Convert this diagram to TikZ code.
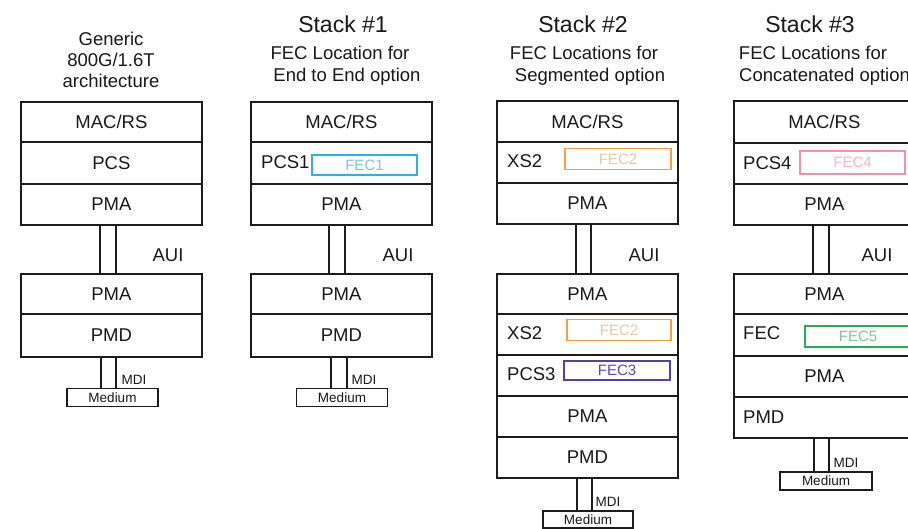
\documentclass[tikz,border=0pt]{standalone}
\usepackage{fontspec}
\setmainfont{Liberation Sans}
\newcommand\fLbl{\fontsize{18.5}{21}\selectfont}
\newcommand\fTtl{\fontsize{23}{26}\selectfont}
\newcommand\fSml{\fontsize{13.5}{15}\selectfont}
\newcommand\fFec{\fontsize{15}{17}\selectfont}
\definecolor{linec}{RGB}{28,28,28}
\definecolor{txtc}{RGB}{25,25,25}
\definecolor{fecAc}{RGB}{45,175,225}
\definecolor{fecAt}{RGB}{125,195,232}
\definecolor{fecBc}{RGB}{245,160,70}
\definecolor{fecBt}{RGB}{228,200,172}
\definecolor{fecCc}{RGB}{85,65,165}
\definecolor{fecCt}{RGB}{95,75,175}
\definecolor{fecDc}{RGB}{240,145,175}
\definecolor{fecDt}{RGB}{246,180,205}
\definecolor{fecEc}{RGB}{40,170,90}
\definecolor{fecEt}{RGB}{125,200,145}
\begin{document}
\begin{tikzpicture}[x=1pt,y=-1pt,
  layer/.style={draw=linec, line width=1.8pt, minimum width=181pt, inner sep=0pt,
    anchor=north west, font=\fLbl, text=txtc},
  lbl/.style={inner sep=0pt, font=\fLbl, text=txtc},
  ttl/.style={inner sep=0pt, font=\fTtl, text=txtc},
  sub/.style={inner sep=0pt, font=\fLbl, text=txtc},
  sml/.style={inner sep=0pt, font=\fSml, text=txtc},
  medbox/.style={draw=linec, line width=1.6pt, minimum width=91pt, minimum height=18pt,
    inner sep=0pt, font=\fSml, text=txtc},
  fecbox/.style={line width=1.9pt, minimum width=105pt, minimum height=21pt,
    inner sep=0pt, font=\fFec},
  pillar/.style={draw=linec, line width=2pt}
]
\useasboundingbox (0,0) rectangle (908,529);
\clip (0,0) rectangle (908,529);
\fill[white] (0,0) rectangle (908,529);

% ---------------- Column 1: Generic ----------------
\node[sub] (t1a) at (111,39) {Generic};
\node[sub] (t1b) at (111,60) {800G/1.6T};
\node[sub] (t1c) at (111,81) {architecture};
\node[layer, minimum height=40pt] (u1a) at (20,101) {MAC/RS};
\node[layer, minimum height=42pt] (u1b) at (20,141) {PCS};
\node[layer, minimum height=41pt] (u1c) at (20,183) {PMA};
\node[layer, minimum height=40pt] (l1a) at (20,273) {PMA};
\node[layer, minimum height=43pt] (l1b) at (20,313) {PMD};
\draw[pillar] ([xshift=-11.5pt]u1c.south) -- ([xshift=-11.5pt]l1a.north);
\draw[pillar] ([xshift=4.5pt]u1c.south) -- ([xshift=4.5pt]l1a.north);
\node[lbl] (aui1) at (168,255) {AUI};
\node[medbox] (med1) at (112.5,397.5) {Medium};
\draw[pillar] ([xshift=-10.5pt]l1b.south) -- ([xshift=-10.5pt]l1b.south |- med1.north);
\draw[pillar] ([xshift=4.5pt]l1b.south) -- ([xshift=4.5pt]l1b.south |- med1.north);
\node[sml] (mdi1) at (134,380) {MDI};

% ---------------- Column 2: Stack #1 ----------------
\node[ttl] (t2a) at (343,24) {Stack \#1};
\node[sub] (t2b) at (340,53) {FEC Location for};
\node[sub] (t2c) at (347,77) {End to End option};
\node[layer, minimum height=40pt] (u2a) at (250,101) {MAC/RS};
\node[layer, minimum height=42pt] (u2b) at (250,141) {};
\node[layer, minimum height=41pt] (u2c) at (250,183) {PMA};
\node[layer, minimum height=40pt] (l2a) at (250,273) {PMA};
\node[layer, minimum height=43pt] (l2b) at (250,313) {PMD};
\node[lbl, anchor=west] (p2) at (261,162) {PCS1};
\node[fecbox, draw=fecAc, text=fecAt, minimum height=20pt] (fec1) at (364.5,165) {FEC1};
\draw[pillar] ([xshift=-12.5pt]u2c.south) -- ([xshift=-12.5pt]l2a.north);
\draw[pillar] ([xshift=3.5pt]u2c.south) -- ([xshift=3.5pt]l2a.north);
\node[lbl] (aui2) at (398,255) {AUI};
\node[medbox] (med2) at (342,397.5) {Medium};
\draw[pillar] ([xshift=-10.5pt]l2b.south) -- ([xshift=-10.5pt]l2b.south |- med2.north);
\draw[pillar] ([xshift=5.5pt]l2b.south) -- ([xshift=5.5pt]l2b.south |- med2.north);
\node[sml] (mdi2) at (364,380) {MDI};

% ---------------- Column 3: Stack #2 ----------------
\node[ttl] (t3a) at (583,24) {Stack \#2};
\node[sub] (t3b) at (584,53) {FEC Locations for};
\node[sub] (t3c) at (590,77) {Segmented option};
\node[layer, minimum height=41pt] (u3a) at (496,100) {MAC/RS};
\node[layer, minimum height=41pt] (u3b) at (496,141) {};
\node[layer, minimum height=41pt] (u3c) at (496,182) {PMA};
\node[layer, minimum height=40pt] (l3a) at (496,273) {PMA};
\node[layer, minimum height=41pt] (l3b) at (496,313) {};
\node[layer, minimum height=41pt] (l3c) at (496,354) {};
\node[layer, minimum height=41pt] (l3d) at (496,395) {PMA};
\node[layer, minimum height=41pt] (l3e) at (496,436) {PMD};
\node[lbl, anchor=west] (x3a) at (507,161) {XS2};
\node[fecbox, draw=fecBc, text=fecBt, minimum width=106pt] (fec2a) at (618,159) {FEC2};
\node[lbl, anchor=west] (x3b) at (507,333) {XS2};
\node[fecbox, draw=fecBc, text=fecBt, minimum width=104pt] (fec2b) at (619,330) {FEC2};
\node[lbl, anchor=west] (p3) at (507,374) {PCS3};
\node[fecbox, draw=fecCc, text=fecCt, minimum width=106pt, minimum height=19pt] (fec3) at (617,370.5) {FEC3};
\draw[pillar] ([xshift=-11pt]u3c.south) -- ([xshift=-11pt]l3a.north);
\draw[pillar] ([xshift=4pt]u3c.south) -- ([xshift=4pt]l3a.north);
\node[lbl] (aui3) at (644,255) {AUI};
\node[medbox, minimum width=90pt, minimum height=17pt] (med3) at (588,519.5) {Medium};
\draw[pillar] ([xshift=-10pt]l3e.south) -- ([xshift=-10pt]l3e.south |- med3.north);
\draw[pillar] ([xshift=5pt]l3e.south) -- ([xshift=5pt]l3e.south |- med3.north);
\node[sml] (mdi3) at (608,502) {MDI};

% ---------------- Column 4: Stack #3 ----------------
\node[ttl] (t4a) at (810,24) {Stack \#3};
\node[sub] (t4b) at (813,53) {FEC Locations for};
\node[sub, anchor=west] (t4c) at (739,77) {Concatenated option};
\node[layer, minimum height=42pt] (u4a) at (733,100) {MAC/RS};
\node[layer, minimum height=41pt] (u4b) at (733,142) {};
\node[layer, minimum height=41pt] (u4c) at (733,183) {PMA};
\node[layer, minimum height=40pt] (l4a) at (733,273) {PMA};
\node[layer, minimum height=42pt] (l4b) at (733,313) {};
\node[layer, minimum height=41pt] (l4c) at (733,355) {PMA};
\node[layer, minimum height=41pt] (l4d) at (733,396) {};
\node[lbl, anchor=west] (p4) at (743,163) {PCS4};
\node[fecbox, draw=fecDc, text=fecDt, minimum height=23pt] (fec4) at (852.5,162.5) {FEC4};
\node[lbl, anchor=west] (f4) at (743,333) {FEC};
\node[fecbox, draw=fecEc, text=fecEt, minimum width=106pt] (fec5) at (858,336.5) {FEC5};
\node[lbl, anchor=west] (d4) at (743,417) {PMD};
\draw[pillar] ([xshift=-11.5pt]u4c.south) -- ([xshift=-11.5pt]l4a.north);
\draw[pillar] ([xshift=4.5pt]u4c.south) -- ([xshift=4.5pt]l4a.north);
\node[lbl] (aui4) at (877,255) {AUI};
\node[medbox, minimum width=92pt] (med4) at (826,481) {Medium};
\draw[pillar] ([xshift=-10.5pt]l4d.south) -- ([xshift=-10.5pt]l4d.south |- med4.north);
\draw[pillar] ([xshift=4.5pt]l4d.south) -- ([xshift=4.5pt]l4d.south |- med4.north);
\node[sml] (mdi4) at (846,463) {MDI};
\end{tikzpicture}
\end{document}
